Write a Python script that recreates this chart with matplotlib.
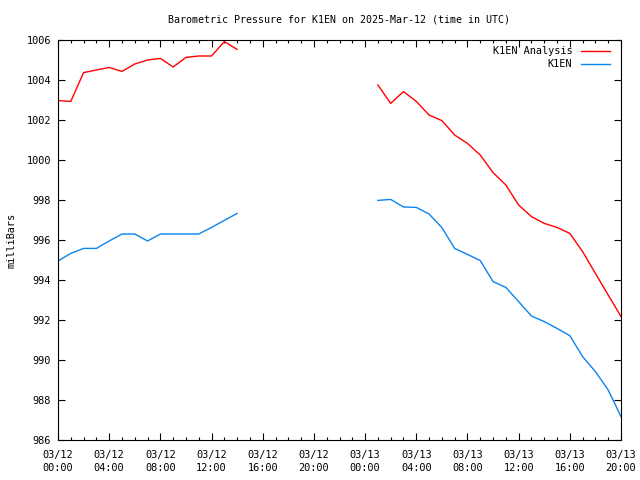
import numpy as np
import matplotlib
matplotlib.use('Agg')
from matplotlib import pyplot as plt
from matplotlib.ticker import MultipleLocator

# data input ========================
# hours since 2025-03-12 00:00 UTC (gap in the middle = missing data)
hours_day1 = [0, 1, 2, 3, 4, 5, 6, 7, 8, 9, 10, 11, 12, 13, 14]
hours_day2 = [25, 26, 27, 28, 29, 30, 31, 32, 33, 34, 35, 36, 37, 38, 39, 40, 41, 42, 43, 44]

analysis_day1 = [1002.97, 1002.93, 1004.37, 1004.50, 1004.63, 1004.43, 1004.80, 1005.00,
                 1005.08, 1004.65, 1005.13, 1005.20, 1005.20, 1005.92, 1005.53]
analysis_day2 = [1003.75, 1002.83, 1003.42, 1002.93, 1002.25, 1001.97, 1001.25, 1000.83,
                 1000.25, 999.37, 998.75, 997.75, 997.17, 996.83, 996.63, 996.33,
                 995.42, 994.33, 993.25, 992.17]

station_day1 = [994.95, 995.33, 995.58, 995.58, 995.95, 996.30, 996.30, 995.95,
                996.30, 996.30, 996.30, 996.30, 996.63, 996.98, 997.33]
station_day2 = [997.98, 998.03, 997.65, 997.63, 997.30, 996.62, 995.58, 995.28,
                994.97, 993.92, 993.63, 992.92, 992.20, 991.92, 991.58, 991.22,
                990.17, 989.42, 988.50, 987.17]

tick_hours = [0, 4, 8, 12, 16, 20, 24, 28, 32, 36, 40, 44]
tick_labels = ['03/12\n00:00', '03/12\n04:00', '03/12\n08:00', '03/12\n12:00',
               '03/12\n16:00', '03/12\n20:00', '03/13\n00:00', '03/13\n04:00',
               '03/13\n08:00', '03/13\n12:00', '03/13\n16:00', '03/13\n20:00']
#===================================

plt.rcParams['font.family'] = 'DejaVu Sans Mono'
plt.rcParams['font.size'] = 7.4

# join the two pieces with a NaN so the line breaks over the gap
x = hours_day1 + [np.nan] + hours_day2
y_an = analysis_day1 + [np.nan] + analysis_day2
y_st = station_day1 + [np.nan] + station_day2

fig = plt.figure(figsize=(6.4, 4.8), dpi=100)
ax = fig.add_axes([58/640, 40/480, 563/640, 400/480])

ax.plot(x, y_an, color='#ff0000', lw=1.0, label='K1EN Analysis')
ax.plot(x, y_st, color='#0a84f0', lw=1.0, label='K1EN')

ax.set_xlim(0, 44)
ax.set_ylim(986, 1006)
ax.set_xticks(tick_hours)
ax.set_xticklabels(tick_labels, linespacing=1.35)
ax.xaxis.set_minor_locator(MultipleLocator(1))
ax.set_yticks(np.arange(986, 1007, 2))

ax.tick_params(which='both', direction='in', top=True, right=True)
ax.tick_params(axis='x', which='major', pad=7)
ax.tick_params(axis='y', which='major', pad=5)
ax.tick_params(which='major', length=5, width=0.8)
ax.tick_params(which='minor', length=2.5, width=0.8)
for s in ax.spines.values():
    s.set_linewidth(0.8)

ax.set_ylabel('milliBars', labelpad=7)
fig.suptitle('Barometric Pressure for K1EN on 2025-Mar-12 (time in UTC)',
             x=339.5/640, y=1 - 14/480, va='top', fontsize=7.2)

ax.legend(loc='upper right', frameon=False, markerfirst=False,
          handlelength=2.9, handletextpad=0.8, borderaxespad=0.2,
          labelspacing=0.3, bbox_to_anchor=(0.992, 1.0))

fig.savefig('out.png', dpi=100)
